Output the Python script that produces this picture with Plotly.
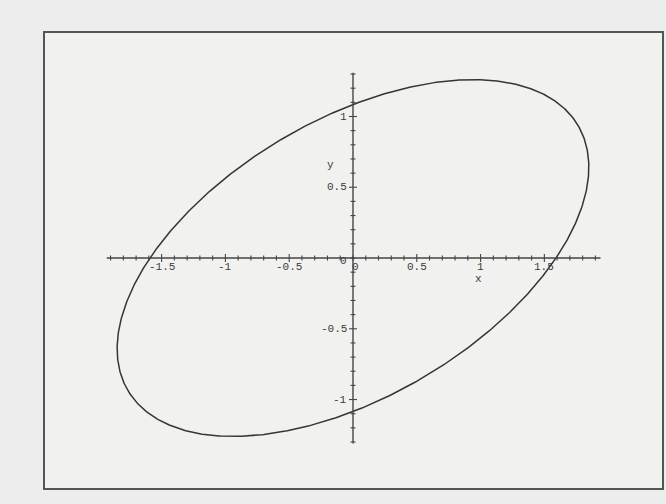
import numpy as np
import plotly.graph_objects as go

# Conic a*x^2 + b*x*y + c*y^2 = 1 (tilted ellipse)
coef_a = 0.395
coef_b = -0.59
coef_c = 0.85

# Axis extents and tick values
x_axis_span = [-1.93, 1.94]
y_axis_span = [-1.31, 1.31]
x_major = [-1.5, -1.0, -0.5, 0.5, 1.0, 1.5]
x_major_labels = ["-1.5", "-1", "-0.5", "0.5", "1", "1.5"]
y_major = [-1.0, -0.5, 0.5, 1.0]
y_major_labels = ["-1", "-0.5", "0.5", "1"]
x_minor = [round(v / 10, 1) for v in range(-19, 20)]
y_minor = [round(v / 10, 1) for v in range(-13, 14)]

# Parametrise the ellipse via the eigen-decomposition of the quadratic form
Q = np.array([[coef_a, coef_b / 2], [coef_b / 2, coef_c]])
evals, evecs = np.linalg.eigh(Q)
t = np.linspace(0, 2 * np.pi, 721)
u = np.vstack([np.cos(t) / np.sqrt(evals[0]), np.sin(t) / np.sqrt(evals[1])])
pts = evecs @ u
ex, ey = pts[0], pts[1]

W, H = 666, 504
ml, mr, mt, mb = 45, 2, 33, 16
xr = [-2.414, 2.422]
yr = [-1.625, 1.590]
px_x = (W - ml - mr) / (xr[1] - xr[0])
px_y = (H - mt - mb) / (yr[1] - yr[0])

axis_col = "#454545"
fnt = dict(family="Liberation Mono, Courier New, monospace", size=11, color="#3c3c3c")

fig = go.Figure()

# Ellipse
fig.add_trace(go.Scatter(x=ex, y=ey, mode="lines",
                         line=dict(color="#353535", width=1.5),
                         hoverinfo="skip", showlegend=False))

# Axes through the origin
fig.add_trace(go.Scatter(x=[x_axis_span[0], x_axis_span[1], None, 0, 0],
                         y=[0, 0, None, y_axis_span[0], y_axis_span[1]],
                         mode="lines", line=dict(color=axis_col, width=1.4),
                         hoverinfo="skip", showlegend=False))

# Tick marks
tx, ty = [], []
for v in x_minor:
    half = (4.0 if any(abs(v - m) < 1e-9 for m in x_major) else 2.5) / px_y
    tx += [v, v, None]
    ty += [-half, half, None]
for v in y_minor:
    half = (4.0 if any(abs(v - m) < 1e-9 for m in y_major) else 2.5) / px_x
    tx += [-half, half, None]
    ty += [v, v, None]
fig.add_trace(go.Scatter(x=tx, y=ty, mode="lines",
                         line=dict(color=axis_col, width=1.1),
                         hoverinfo="skip", showlegend=False))

ann = []
for v, s in zip(x_major, x_major_labels):
    ann.append(dict(x=v, y=0, text=s, showarrow=False, xanchor="center",
                    yanchor="top", yshift=-1, font=fnt))
for v, s in zip(y_major, y_major_labels):
    ann.append(dict(x=0, y=v, text=s, showarrow=False, xanchor="right",
                    yanchor="middle", xshift=-4, font=fnt))
# Origin labels
ann.append(dict(x=0, y=0, text="0", showarrow=False, xanchor="right",
                yanchor="middle", xshift=-4, yshift=-3, font=fnt))
ann.append(dict(x=0, y=0, text="0", showarrow=False, xanchor="center",
                yanchor="top", xshift=3, yshift=-1, font=fnt))
# Axis names
ann.append(dict(x=0.98, y=0, text="x", showarrow=False, xanchor="center",
                yanchor="top", yshift=-13, font=fnt))
ann.append(dict(x=-0.18, y=0.655, text="y", showarrow=False, font=fnt))

fig.update_layout(
    width=W, height=H,
    margin=dict(l=ml, r=mr, t=mt, b=mb, pad=0),
    paper_bgcolor="#ededed",
    plot_bgcolor="#f1f1f0",
    annotations=ann,
    xaxis=dict(range=xr, showgrid=False, zeroline=False, showticklabels=False,
               ticks="", showline=True, mirror=True, linecolor="#555555",
               linewidth=2, fixedrange=True),
    yaxis=dict(range=yr, showgrid=False, zeroline=False, showticklabels=False,
               ticks="", showline=True, mirror=True, linecolor="#555555",
               linewidth=2, fixedrange=True),
)

fig.write_html("out.html", config={"displayModeBar": False})
